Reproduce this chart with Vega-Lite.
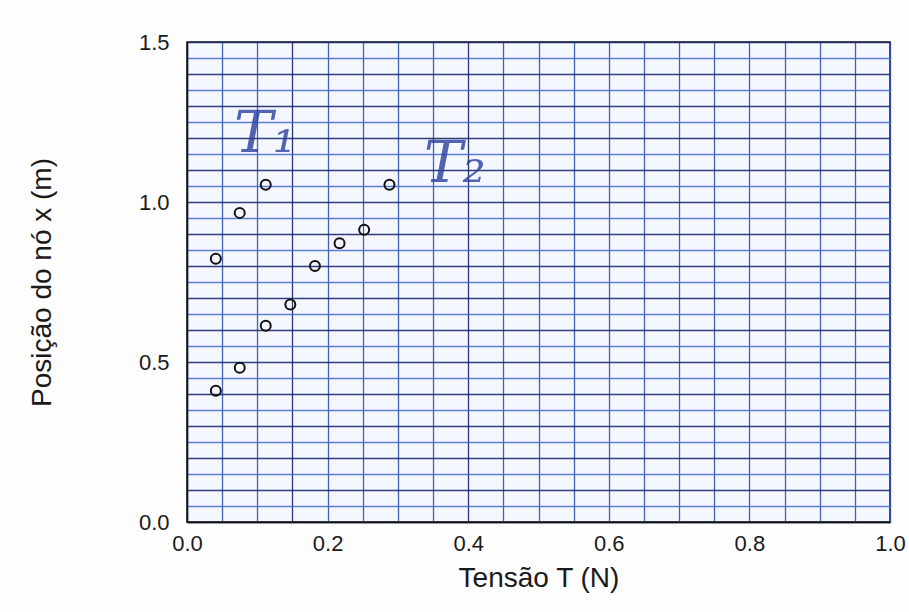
{
  "$schema": "https://vega.github.io/schema/vega-lite/v6.json",
  "width": 703,
  "height": 480,
  "autosize": {"type": "none"},
  "padding": {"left": 187, "top": 42, "right": 19, "bottom": 90},
  "background": "#fdfdfd",
  "config": {
    "view": {"stroke": "#111111", "strokeWidth": 1.5, "fill": "#f4f8fe"},
    "axis": {
      "labelFont": "Liberation Sans",
      "titleFont": "Liberation Sans",
      "labelFontSize": 22,
      "titleFontSize": 28,
      "titleFontWeight": "normal",
      "labelColor": "#1a1a1a",
      "titleColor": "#1a1a1a",
      "ticks": false,
      "labelFlush": false,
      "domainColor": "#111111",
      "domainWidth": 1.5
    }
  },
  "datasets": {
    "pts": [
      {"T": 0.041, "x": 0.823},
      {"T": 0.041, "x": 0.41},
      {"T": 0.075, "x": 0.966},
      {"T": 0.075, "x": 0.482},
      {"T": 0.112, "x": 1.054},
      {"T": 0.112, "x": 0.613},
      {"T": 0.147, "x": 0.68},
      {"T": 0.182, "x": 0.8},
      {"T": 0.217, "x": 0.871},
      {"T": 0.252, "x": 0.913},
      {"T": 0.288, "x": 1.054}
    ],
    "notes": [
      {"T": 0.111, "x": 1.21, "label": "T₁"},
      {"T": 0.381, "x": 1.115, "label": "T₂"}
    ]
  },
  "encoding": {
    "x": {
      "field": "T", "type": "quantitative",
      "scale": {"domain": [0, 1], "nice": false, "zero": false},
      "axis": {
        "title": "Tensão T (N)",
        "values": [0, 0.05, 0.1, 0.15, 0.2, 0.25, 0.3, 0.35, 0.4, 0.45, 0.5, 0.55, 0.6, 0.65, 0.7, 0.75, 0.8, 0.85, 0.9, 0.95, 1.0],
        "labelExpr": "abs(datum.value*5 - round(datum.value*5)) < 0.001 ? format(datum.value, '.1f') : ''",
        "labelPadding": 11,
        "titlePadding": 10,
        "grid": true,
        "gridColor": {"condition": {"test": "abs(datum.value - 0.4) < 0.001 || abs(datum.value - 0.15) < 0.001", "value": "#14215e"}, "value": "#3450a8"},
        "gridWidth": 1.3,
        "gridOpacity": 0.9
      }
    },
    "y": {
      "field": "x", "type": "quantitative",
      "scale": {"domain": [0, 1.5], "nice": false, "zero": false},
      "axis": {
        "title": "Posição do nó x (m)",
        "values": [0, 0.05, 0.1, 0.15, 0.2, 0.25, 0.3, 0.35, 0.4, 0.45, 0.5, 0.55, 0.6, 0.65, 0.7, 0.75, 0.8, 0.85, 0.9, 0.95, 1.0, 1.05, 1.1, 1.15, 1.2, 1.25, 1.3, 1.35, 1.4, 1.45, 1.5],
        "labelExpr": "abs(datum.value*2 - round(datum.value*2)) < 0.001 ? format(datum.value, '.1f') : ''",
        "labelPadding": 18,
        "titlePadding": 82,
        "grid": true,
        "gridColor": {"condition": {"test": "abs(datum.value*10 - round(datum.value*10)) < 0.001", "value": "#1c2a6a"}, "value": "#4a6fd0"},
        "gridWidth": 1.5,
        "gridOpacity": 0.9
      }
    }
  },
  "layer": [
    {
      "data": {"name": "pts"},
      "mark": {"type": "point", "shape": "circle", "filled": false, "stroke": "#111111", "strokeWidth": 2, "size": 100, "opacity": 1}
    },
    {
      "data": {"name": "notes"},
      "mark": {"type": "text", "font": "DejaVu Serif", "fontStyle": "italic", "fontSize": 58, "fontWeight": "normal", "color": "#2a3ea0", "opacity": 0.8, "align": "center", "baseline": "middle"},
      "encoding": {
        "text": {"field": "label"}
      }
    }
  ]
}
